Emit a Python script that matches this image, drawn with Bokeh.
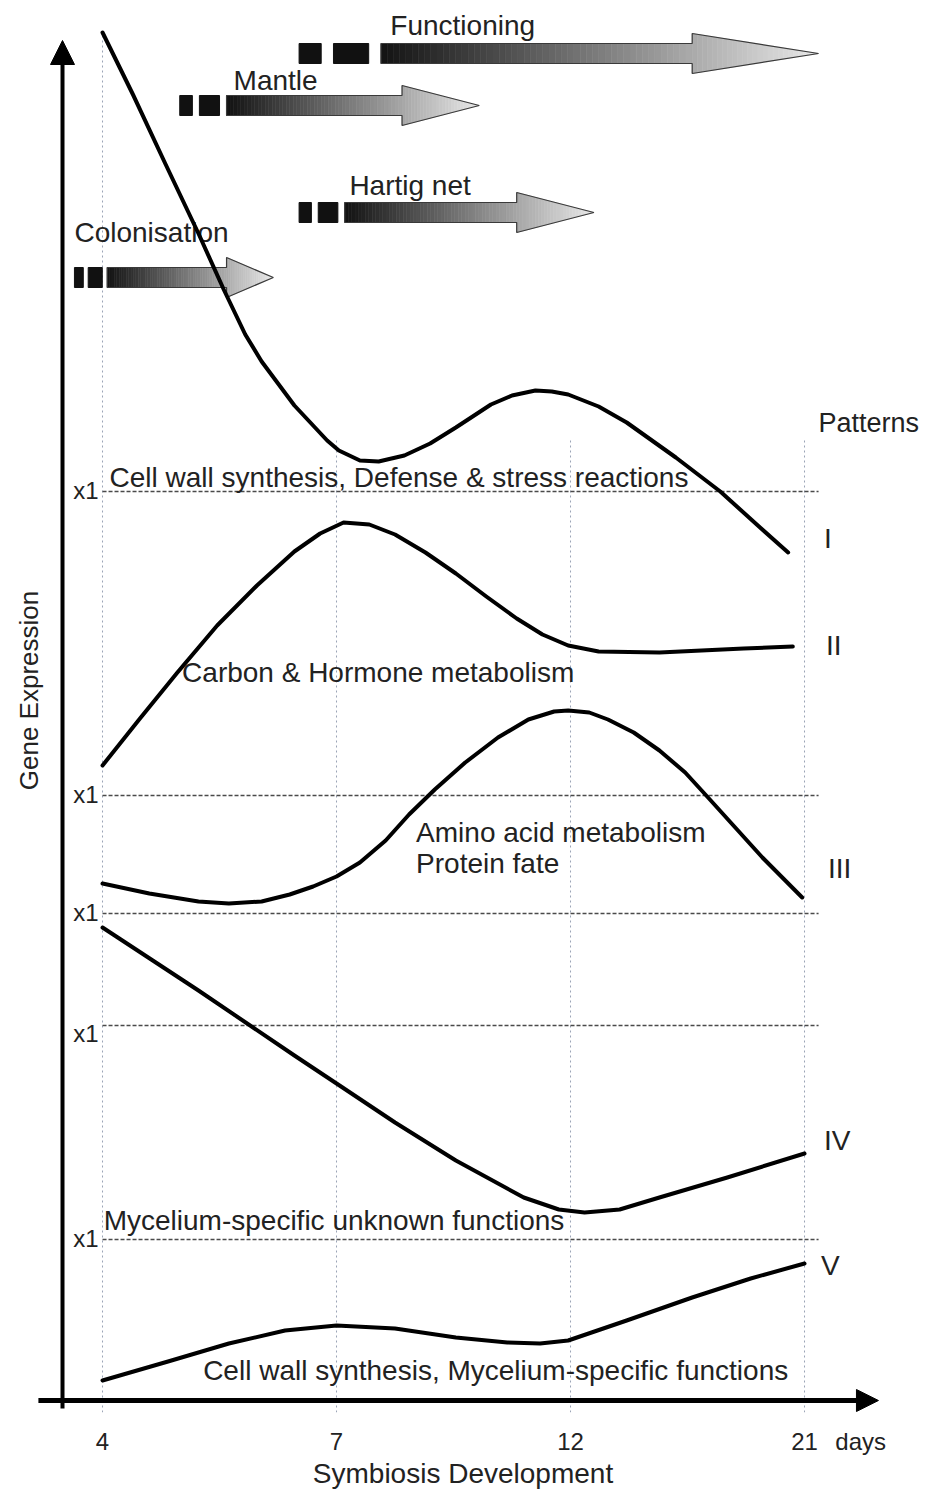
import numpy as np
from bokeh.plotting import figure
from bokeh.models import Range1d, FixedTicker, Arrow, NormalHead
from bokeh.core.properties import value
from bokeh.embed import file_html
from bokeh.resources import INLINE

# ---------------- data ----------------
days = ["4", "7", "12", "21"]
stage = [0, 1, 2, 3]          # sampling stages (4, 7, 12, 21 days)

pattern_names = ["I", "II", "III", "IV", "V"]
pattern_baseline = [909, 605, 487, 375, 161]      # "x1" level of each panel

p1_x = [0.00, 0.13, 0.27, 0.41, 0.52, 0.61, 0.68, 0.82, 0.96, 1.01, 1.10, 1.18, 1.29, 1.40, 1.51, 1.66,
        1.75, 1.85, 1.92, 1.99, 2.12, 2.24, 2.45, 2.64, 2.81, 2.93]
p1_y = [1368, 1306, 1236, 1167, 1110, 1066, 1039, 995, 960, 950, 940, 939, 945, 957, 973, 996,
        1005, 1010, 1009, 1006, 994, 978, 943, 909, 873, 848]

p2_x = [0.00, 0.16, 0.32, 0.49, 0.66, 0.82, 0.93, 1.03, 1.14, 1.25, 1.38, 1.51, 1.64, 1.77, 1.88, 1.99, 2.12, 2.38, 2.74, 2.95]
p2_y = [635, 682, 728, 775, 815, 849, 867, 878, 876, 866, 848, 827, 804, 782, 766, 755, 749, 748, 752, 754]

p3_x = [0.00, 0.20, 0.41, 0.54, 0.68, 0.80, 0.90, 1.00, 1.10, 1.21, 1.31, 1.42, 1.55, 1.69, 1.82, 1.93, 1.99,
        2.08, 2.16, 2.27, 2.38, 2.49, 2.58, 2.70, 2.82, 2.99]
p3_y = [517, 507, 499, 497, 499, 506, 514, 524, 538, 560, 586, 611, 638, 663, 681, 689, 690,
        688, 681, 668, 650, 628, 605, 574, 543, 503]

p4_x = [0.00, 0.41, 0.82, 1.00, 1.25, 1.51, 1.80, 1.95, 2.06, 2.21, 2.38, 2.67, 3.00]
p4_y = [473, 410, 345, 317, 278, 240, 203, 191, 188, 191, 203, 223, 247]

p5_x = [0.00, 0.28, 0.54, 0.78, 1.00, 1.25, 1.51, 1.73, 1.87, 1.99, 2.24, 2.52, 2.77, 3.00]
p5_y = [20, 39, 57, 70, 75, 72, 63, 58, 57, 60, 80, 103, 122, 137]

pattern_labels = ["Cell wall synthesis, Defense & stress reactions",
                  "Carbon & Hormone metabolism",
                  "Amino acid metabolism",
                  "Protein fate",
                  "Mycelium-specific unknown functions",
                  "Cell wall synthesis, Mycelium-specific functions"]

phase_names = ["Colonisation", "Mantle", "Hartig net", "Functioning"]
phase_dash_from = [-0.12, 0.33, 0.84, 0.84]
phase_solid_from = [0.02, 0.53, 1.035, 1.19]
phase_full_from = [0.53, 1.28, 1.77, 2.52]
phase_until = [0.73, 1.61, 2.10, 3.06]
phase_level = [1123, 1295, 1188, 1347]

# ---------------- layout constants ----------------
TXT = "#222222"
FONT = value("Liberation Sans")
X_MIN, X_MAX = -0.436, 3.517
Y_MIN, Y_MAX = -12, 1400

p = figure(width=925, height=1493, x_range=Range1d(X_MIN, X_MAX), y_range=Range1d(Y_MIN, Y_MAX),
           output_backend="svg", toolbar_location=None, y_axis_location=None,
           min_border_left=0, min_border_right=0, min_border_top=0, min_border_bottom=81)
p.xgrid.visible = False
p.ygrid.visible = False
p.outline_line_color = None
p.background_fill_color = "white"
p.border_fill_color = "white"

# vertical dotted guides
grid_top = [1365, 962, 962, 962]
for s, top in zip(stage, grid_top):
    p.segment(x0=s, y0=-12, x1=s, y1=top, line_color="#9aa3b5", line_width=1, line_dash="2 3")

# x1 baselines
for b in pattern_baseline:
    p.segment(x0=0, y0=b, x1=3.06, y1=b, line_color="#4a4a4a", line_width=1.3, line_dash="4 2")
x1_dy = [1, 1, 1, -8, 1]
p.text(x=[-0.017] * 5, y=[b + d for b, d in zip(pattern_baseline, x1_dy)], text=["x1"] * 5,
       text_align="right", text_baseline="alphabetic", text_font=FONT, text_font_size="24px",
       text_color=TXT)

# ---------------- phase arrows ----------------
HB, HH = 10, 20   # half heights (px) of body and head


def gray(t):
    v = int(round(18 + (232 - 18) * min(max(t, 0), 1)))
    return "#%02x%02x%02x" % (v, v, v)


xs, ys, cols = [], [], []
dq = dict(left=[], right=[], top=[], bottom=[])
for d0, bs, hs, tp, lv in zip(phase_dash_from, phase_solid_from, phase_full_from, phase_until, phase_level):
    L = tp - bs
    D = bs - d0
    for a, b in [(0.0, 0.27), (0.42, 0.85)]:
        dq["left"].append(d0 + a * D)
        dq["right"].append(d0 + b * D)
        dq["top"].append(lv + HB)
        dq["bottom"].append(lv - HB)
    nb = 50
    edges = np.linspace(bs, hs, nb + 1)
    for a, b in zip(edges[:-1], edges[1:]):
        xs.append([a, b, b, a])
        ys.append([lv - HB, lv - HB, lv + HB, lv + HB])
        cols.append(gray(((a + b) / 2 - bs) / L))
    nh = 25
    edges = np.linspace(hs, tp, nh + 1)
    for a, b in zip(edges[:-1], edges[1:]):
        ha = HH * (tp - a) / (tp - hs)
        hb = HH * (tp - b) / (tp - hs)
        xs.append([a, b, b, a])
        ys.append([lv - ha, lv - hb, lv + hb, lv + ha])
        cols.append(gray(((a + b) / 2 - bs) / L))

p.patches(xs=xs, ys=ys, fill_color=cols, line_color=cols, line_width=0.6)
p.quad(left=dq["left"], right=dq["right"], top=dq["top"], bottom=dq["bottom"],
       fill_color="#111111", line_color="#111111")
for bs, hs, tp, lv in zip(phase_solid_from, phase_full_from, phase_until, phase_level):
    p.patch(x=[bs, hs, hs, tp, hs, hs, bs, bs],
            y=[lv + HB, lv + HB, lv + HH, lv, lv - HH, lv - HB, lv - HB, lv + HB],
            fill_alpha=0, line_color="#3a3a3a", line_width=1.2)

LABEL_DX = [0.0, 0.03, 0.02, 0.04]
LABEL_DY = [45, 25, 27, 28]
lab_x = [phase_dash_from[0] + LABEL_DX[0]] + [phase_solid_from[i] + LABEL_DX[i] for i in range(1, 4)]
lab_y = [lv + dy for lv, dy in zip(phase_level, LABEL_DY)]
p.text(x=lab_x, y=lab_y, text=phase_names, text_align="left", text_baseline="middle",
       text_font=FONT, text_font_size="28px", text_color=TXT)

# ---------------- curves ----------------
for cx, cy in [(p1_x, p1_y), (p2_x, p2_y), (p3_x, p3_y), (p4_x, p4_y), (p5_x, p5_y)]:
    p.line(cx, cy, line_color="black", line_width=4, line_join="round", line_cap="round")

# pattern descriptions
p.text(x=[0.03, 0.34, 1.34, 1.34, 0.005, 0.43], y=[923, 728, 568, 537, 180, 30], text=pattern_labels,
       text_align="left", text_baseline="middle", text_font=FONT, text_font_size="28px", text_color=TXT)

# pattern numerals
p.text(x=[3.06], y=[978], text=["Patterns"], text_align="left", text_baseline="middle",
       text_font=FONT, text_font_size="27px", text_color=TXT)
p.text(x=[3.10, 3.125, 3.15, 3.14, 3.11], y=[862, 755, 532, 260, 135], text=pattern_names,
       text_align="center", text_baseline="middle", text_font=FONT, text_font_size="28px", text_color=TXT)

# y label
p.text(x=[-0.316], y=[710], text=["Gene Expression"], angle=np.pi / 2, text_align="center",
       text_baseline="middle", text_font=FONT, text_font_size="26px", text_color=TXT)

# axes arrows
p.add_layout(Arrow(end=NormalHead(size=24, fill_color="black", line_color="black"),
                   x_start=-0.171, y_start=-8, x_end=-0.171, y_end=1360,
                   line_color="black", line_width=4))
p.add_layout(Arrow(end=NormalHead(size=22, fill_color="black", line_color="black"),
                   x_start=-0.274, y_start=0, x_end=3.316, y_end=0,
                   line_color="black", line_width=5))

# x axis labels
ax = p.xaxis[0]
ax.ticker = FixedTicker(ticks=stage + [3.24])
ax.major_label_overrides = {0: "4", 1: "7", 2: "12", 3: "21", 3.24: "days"}
ax.axis_line_color = None
ax.major_tick_line_color = None
ax.minor_tick_line_color = None
ax.major_label_text_font = "Liberation Sans"
ax.major_label_text_font_size = "24px"
ax.major_label_text_color = TXT
ax.major_label_standoff = 9
ax.axis_label = "Symbiosis Development"
ax.axis_label_text_font = "Liberation Sans"
ax.axis_label_text_font_size = "28px"
ax.axis_label_text_font_style = "normal"
ax.axis_label_text_color = TXT
ax.axis_label_standoff = 0

open("out.html", "w").write(file_html(p, INLINE))
